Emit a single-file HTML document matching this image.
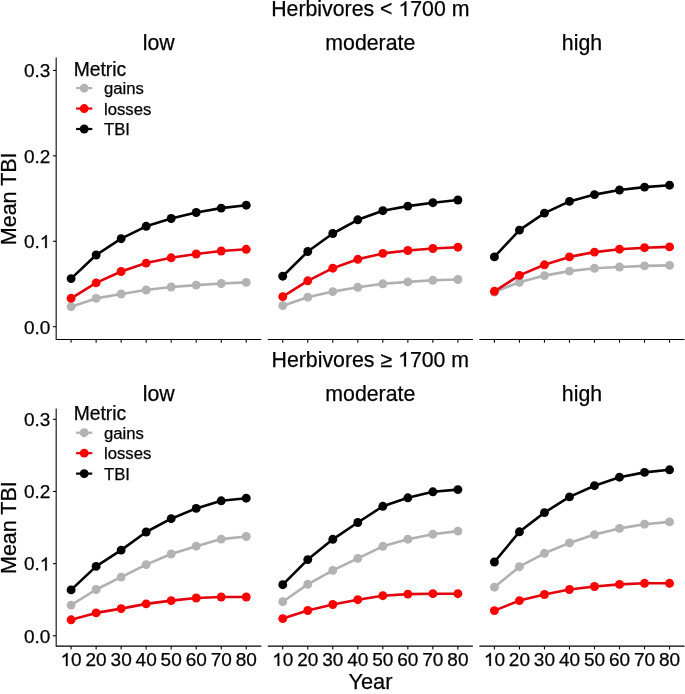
<!DOCTYPE html>
<html><head><meta charset="utf-8"><style>
html,body{margin:0;padding:0;background:#fff;}
svg{display:block;will-change:transform;filter:blur(0.3px);}
text,.one{stroke:#000;stroke-width:0.25px;paint-order:stroke;}
svg{font-family:"Liberation Sans",sans-serif;}
</style></head><body>
<svg width="685" height="694" viewBox="0 0 685 694" font-family="Liberation Sans, sans-serif" stroke-width="0" fill="#000"><text id="t1" x="370.32" y="15.90" font-size="21.3" text-anchor="middle" >Herbivores &lt;  700 m</text>
<text x="158.67" y="49.80" font-size="21.3" text-anchor="middle" >low</text>
<text x="370.32" y="49.80" font-size="21.3" text-anchor="middle" >moderate</text>
<text x="581.97" y="49.80" font-size="21.3" text-anchor="middle" >high</text>
<line x1="56.17" y1="57.60" x2="56.17" y2="340.00" stroke="#000" stroke-width="1.07"/>
<line x1="52.89" y1="326.70" x2="56.09" y2="326.70" stroke="#000" stroke-width="1.07"/>
<text x="50.30" y="333.50" font-size="19" text-anchor="end" >0.0</text>
<line x1="52.89" y1="241.27" x2="56.09" y2="241.27" stroke="#000" stroke-width="1.07"/>
<text id="t2" x="50.30" y="248.07" font-size="19" text-anchor="end" >0. </text>
<line x1="52.89" y1="155.83" x2="56.09" y2="155.83" stroke="#000" stroke-width="1.07"/>
<text x="50.30" y="162.63" font-size="19" text-anchor="end" >0.2</text>
<line x1="52.89" y1="70.40" x2="56.09" y2="70.40" stroke="#000" stroke-width="1.07"/>
<text x="50.30" y="77.20" font-size="19" text-anchor="end" >0.3</text>
<line x1="56.09" y1="339.45" x2="261.25" y2="339.45" stroke="#000" stroke-width="1.07"/>
<line x1="71.10" y1="339.45" x2="71.10" y2="342.75" stroke="#000" stroke-width="1.07"/>
<line x1="96.12" y1="339.45" x2="96.12" y2="342.75" stroke="#000" stroke-width="1.07"/>
<line x1="121.14" y1="339.45" x2="121.14" y2="342.75" stroke="#000" stroke-width="1.07"/>
<line x1="146.16" y1="339.45" x2="146.16" y2="342.75" stroke="#000" stroke-width="1.07"/>
<line x1="171.18" y1="339.45" x2="171.18" y2="342.75" stroke="#000" stroke-width="1.07"/>
<line x1="196.20" y1="339.45" x2="196.20" y2="342.75" stroke="#000" stroke-width="1.07"/>
<line x1="221.22" y1="339.45" x2="221.22" y2="342.75" stroke="#000" stroke-width="1.07"/>
<line x1="246.24" y1="339.45" x2="246.24" y2="342.75" stroke="#000" stroke-width="1.07"/>
<line x1="267.74" y1="339.45" x2="472.90" y2="339.45" stroke="#000" stroke-width="1.07"/>
<line x1="282.75" y1="339.45" x2="282.75" y2="342.75" stroke="#000" stroke-width="1.07"/>
<line x1="307.77" y1="339.45" x2="307.77" y2="342.75" stroke="#000" stroke-width="1.07"/>
<line x1="332.79" y1="339.45" x2="332.79" y2="342.75" stroke="#000" stroke-width="1.07"/>
<line x1="357.81" y1="339.45" x2="357.81" y2="342.75" stroke="#000" stroke-width="1.07"/>
<line x1="382.83" y1="339.45" x2="382.83" y2="342.75" stroke="#000" stroke-width="1.07"/>
<line x1="407.85" y1="339.45" x2="407.85" y2="342.75" stroke="#000" stroke-width="1.07"/>
<line x1="432.87" y1="339.45" x2="432.87" y2="342.75" stroke="#000" stroke-width="1.07"/>
<line x1="457.89" y1="339.45" x2="457.89" y2="342.75" stroke="#000" stroke-width="1.07"/>
<line x1="479.39" y1="339.45" x2="684.55" y2="339.45" stroke="#000" stroke-width="1.07"/>
<line x1="494.40" y1="339.45" x2="494.40" y2="342.75" stroke="#000" stroke-width="1.07"/>
<line x1="519.42" y1="339.45" x2="519.42" y2="342.75" stroke="#000" stroke-width="1.07"/>
<line x1="544.44" y1="339.45" x2="544.44" y2="342.75" stroke="#000" stroke-width="1.07"/>
<line x1="569.46" y1="339.45" x2="569.46" y2="342.75" stroke="#000" stroke-width="1.07"/>
<line x1="594.48" y1="339.45" x2="594.48" y2="342.75" stroke="#000" stroke-width="1.07"/>
<line x1="619.50" y1="339.45" x2="619.50" y2="342.75" stroke="#000" stroke-width="1.07"/>
<line x1="644.52" y1="339.45" x2="644.52" y2="342.75" stroke="#000" stroke-width="1.07"/>
<line x1="669.54" y1="339.45" x2="669.54" y2="342.75" stroke="#000" stroke-width="1.07"/>
<text x="0" y="0" font-size="21.5" text-anchor="middle" transform="translate(15.6,198.83) rotate(-90)">Mean TBI</text>
<polyline points="71.10,306.70 96.12,298.40 121.14,294.00 146.16,290.00 171.18,287.00 196.20,285.10 221.22,283.50 246.24,282.40" fill="none" stroke="#B0B0B0" stroke-width="2.6" stroke-linejoin="round"/>
<circle cx="71.10" cy="306.70" r="4.45" fill="#B3B3B3"/>
<circle cx="96.12" cy="298.40" r="4.45" fill="#B3B3B3"/>
<circle cx="121.14" cy="294.00" r="4.45" fill="#B3B3B3"/>
<circle cx="146.16" cy="290.00" r="4.45" fill="#B3B3B3"/>
<circle cx="171.18" cy="287.00" r="4.45" fill="#B3B3B3"/>
<circle cx="196.20" cy="285.10" r="4.45" fill="#B3B3B3"/>
<circle cx="221.22" cy="283.50" r="4.45" fill="#B3B3B3"/>
<circle cx="246.24" cy="282.40" r="4.45" fill="#B3B3B3"/>
<polyline points="71.10,298.30 96.12,282.90 121.14,271.50 146.16,263.10 171.18,257.80 196.20,254.00 221.22,251.00 246.24,249.30" fill="none" stroke="#E2000C" stroke-width="2.6" stroke-linejoin="round"/>
<circle cx="71.10" cy="298.30" r="4.45" fill="#FF0000"/>
<circle cx="96.12" cy="282.90" r="4.45" fill="#FF0000"/>
<circle cx="121.14" cy="271.50" r="4.45" fill="#FF0000"/>
<circle cx="146.16" cy="263.10" r="4.45" fill="#FF0000"/>
<circle cx="171.18" cy="257.80" r="4.45" fill="#FF0000"/>
<circle cx="196.20" cy="254.00" r="4.45" fill="#FF0000"/>
<circle cx="221.22" cy="251.00" r="4.45" fill="#FF0000"/>
<circle cx="246.24" cy="249.30" r="4.45" fill="#FF0000"/>
<polyline points="71.10,278.60 96.12,255.00 121.14,238.70 146.16,226.30 171.18,218.50 196.20,212.50 221.22,208.10 246.24,205.20" fill="none" stroke="#000000" stroke-width="2.6" stroke-linejoin="round"/>
<circle cx="71.10" cy="278.60" r="4.45" fill="#000000"/>
<circle cx="96.12" cy="255.00" r="4.45" fill="#000000"/>
<circle cx="121.14" cy="238.70" r="4.45" fill="#000000"/>
<circle cx="146.16" cy="226.30" r="4.45" fill="#000000"/>
<circle cx="171.18" cy="218.50" r="4.45" fill="#000000"/>
<circle cx="196.20" cy="212.50" r="4.45" fill="#000000"/>
<circle cx="221.22" cy="208.10" r="4.45" fill="#000000"/>
<circle cx="246.24" cy="205.20" r="4.45" fill="#000000"/>
<polyline points="282.75,305.70 307.77,297.20 332.79,291.60 357.81,287.30 382.83,283.80 407.85,281.90 432.87,280.30 457.89,279.50" fill="none" stroke="#B0B0B0" stroke-width="2.6" stroke-linejoin="round"/>
<circle cx="282.75" cy="305.70" r="4.45" fill="#B3B3B3"/>
<circle cx="307.77" cy="297.20" r="4.45" fill="#B3B3B3"/>
<circle cx="332.79" cy="291.60" r="4.45" fill="#B3B3B3"/>
<circle cx="357.81" cy="287.30" r="4.45" fill="#B3B3B3"/>
<circle cx="382.83" cy="283.80" r="4.45" fill="#B3B3B3"/>
<circle cx="407.85" cy="281.90" r="4.45" fill="#B3B3B3"/>
<circle cx="432.87" cy="280.30" r="4.45" fill="#B3B3B3"/>
<circle cx="457.89" cy="279.50" r="4.45" fill="#B3B3B3"/>
<polyline points="282.75,296.70 307.77,280.80 332.79,268.20 357.81,259.30 382.83,253.40 407.85,250.50 432.87,248.50 457.89,247.20" fill="none" stroke="#E2000C" stroke-width="2.6" stroke-linejoin="round"/>
<circle cx="282.75" cy="296.70" r="4.45" fill="#FF0000"/>
<circle cx="307.77" cy="280.80" r="4.45" fill="#FF0000"/>
<circle cx="332.79" cy="268.20" r="4.45" fill="#FF0000"/>
<circle cx="357.81" cy="259.30" r="4.45" fill="#FF0000"/>
<circle cx="382.83" cy="253.40" r="4.45" fill="#FF0000"/>
<circle cx="407.85" cy="250.50" r="4.45" fill="#FF0000"/>
<circle cx="432.87" cy="248.50" r="4.45" fill="#FF0000"/>
<circle cx="457.89" cy="247.20" r="4.45" fill="#FF0000"/>
<polyline points="282.75,276.20 307.77,251.50 332.79,233.50 357.81,219.80 382.83,210.70 407.85,206.10 432.87,202.70 457.89,200.00" fill="none" stroke="#000000" stroke-width="2.6" stroke-linejoin="round"/>
<circle cx="282.75" cy="276.20" r="4.45" fill="#000000"/>
<circle cx="307.77" cy="251.50" r="4.45" fill="#000000"/>
<circle cx="332.79" cy="233.50" r="4.45" fill="#000000"/>
<circle cx="357.81" cy="219.80" r="4.45" fill="#000000"/>
<circle cx="382.83" cy="210.70" r="4.45" fill="#000000"/>
<circle cx="407.85" cy="206.10" r="4.45" fill="#000000"/>
<circle cx="432.87" cy="202.70" r="4.45" fill="#000000"/>
<circle cx="457.89" cy="200.00" r="4.45" fill="#000000"/>
<polyline points="494.40,292.00 519.42,282.30 544.44,275.60 569.46,271.10 594.48,268.30 619.50,267.00 644.52,265.90 669.54,265.40" fill="none" stroke="#B0B0B0" stroke-width="2.6" stroke-linejoin="round"/>
<circle cx="494.40" cy="292.00" r="4.45" fill="#B3B3B3"/>
<circle cx="519.42" cy="282.30" r="4.45" fill="#B3B3B3"/>
<circle cx="544.44" cy="275.60" r="4.45" fill="#B3B3B3"/>
<circle cx="569.46" cy="271.10" r="4.45" fill="#B3B3B3"/>
<circle cx="594.48" cy="268.30" r="4.45" fill="#B3B3B3"/>
<circle cx="619.50" cy="267.00" r="4.45" fill="#B3B3B3"/>
<circle cx="644.52" cy="265.90" r="4.45" fill="#B3B3B3"/>
<circle cx="669.54" cy="265.40" r="4.45" fill="#B3B3B3"/>
<polyline points="494.40,291.30 519.42,275.40 544.44,264.80 569.46,256.90 594.48,252.10 619.50,249.20 644.52,247.70 669.54,246.90" fill="none" stroke="#E2000C" stroke-width="2.6" stroke-linejoin="round"/>
<circle cx="494.40" cy="291.30" r="4.45" fill="#FF0000"/>
<circle cx="519.42" cy="275.40" r="4.45" fill="#FF0000"/>
<circle cx="544.44" cy="264.80" r="4.45" fill="#FF0000"/>
<circle cx="569.46" cy="256.90" r="4.45" fill="#FF0000"/>
<circle cx="594.48" cy="252.10" r="4.45" fill="#FF0000"/>
<circle cx="619.50" cy="249.20" r="4.45" fill="#FF0000"/>
<circle cx="644.52" cy="247.70" r="4.45" fill="#FF0000"/>
<circle cx="669.54" cy="246.90" r="4.45" fill="#FF0000"/>
<polyline points="494.40,256.90 519.42,230.10 544.44,213.10 569.46,201.40 594.48,194.60 619.50,190.00 644.52,187.10 669.54,185.20" fill="none" stroke="#000000" stroke-width="2.6" stroke-linejoin="round"/>
<circle cx="494.40" cy="256.90" r="4.45" fill="#000000"/>
<circle cx="519.42" cy="230.10" r="4.45" fill="#000000"/>
<circle cx="544.44" cy="213.10" r="4.45" fill="#000000"/>
<circle cx="569.46" cy="201.40" r="4.45" fill="#000000"/>
<circle cx="594.48" cy="194.60" r="4.45" fill="#000000"/>
<circle cx="619.50" cy="190.00" r="4.45" fill="#000000"/>
<circle cx="644.52" cy="187.10" r="4.45" fill="#000000"/>
<circle cx="669.54" cy="185.20" r="4.45" fill="#000000"/>
<text x="73.70" y="75.60" font-size="19.3" text-anchor="start" >Metric</text>
<line x1="76.1" y1="88.10" x2="92.3" y2="88.10" stroke="#B0B0B0" stroke-width="2.2"/>
<circle cx="84.2" cy="88.10" r="4.45" fill="#B3B3B3"/>
<text x="104.00" y="94.30" font-size="16.7" text-anchor="start" >gains</text>
<line x1="76.1" y1="108.55" x2="92.3" y2="108.55" stroke="#E2000C" stroke-width="2.2"/>
<circle cx="84.2" cy="108.55" r="4.45" fill="#FF0000"/>
<text x="104.00" y="114.75" font-size="16.7" text-anchor="start" >losses</text>
<line x1="76.1" y1="129.00" x2="92.3" y2="129.00" stroke="#000000" stroke-width="2.2"/>
<circle cx="84.2" cy="129.00" r="4.45" fill="#000000"/>
<text x="104.00" y="135.20" font-size="16.7" text-anchor="start" >TBI</text>
<text id="t3" x="370.32" y="366.60" font-size="21.3" text-anchor="middle" >Herbivores ≥  700 m</text>
<text x="158.67" y="400.50" font-size="21.3" text-anchor="middle" >low</text>
<text x="370.32" y="400.50" font-size="21.3" text-anchor="middle" >moderate</text>
<text x="581.97" y="400.50" font-size="21.3" text-anchor="middle" >high</text>
<line x1="56.17" y1="408.50" x2="56.17" y2="646.65" stroke="#000" stroke-width="1.07"/>
<line x1="52.89" y1="635.80" x2="56.09" y2="635.80" stroke="#000" stroke-width="1.07"/>
<text x="50.30" y="642.60" font-size="19" text-anchor="end" >0.0</text>
<line x1="52.89" y1="563.63" x2="56.09" y2="563.63" stroke="#000" stroke-width="1.07"/>
<text id="t4" x="50.30" y="570.43" font-size="19" text-anchor="end" >0. </text>
<line x1="52.89" y1="491.47" x2="56.09" y2="491.47" stroke="#000" stroke-width="1.07"/>
<text x="50.30" y="498.27" font-size="19" text-anchor="end" >0.2</text>
<line x1="52.89" y1="419.30" x2="56.09" y2="419.30" stroke="#000" stroke-width="1.07"/>
<text x="50.30" y="426.10" font-size="19" text-anchor="end" >0.3</text>
<line x1="56.09" y1="646.10" x2="261.25" y2="646.10" stroke="#000" stroke-width="1.07"/>
<line x1="71.10" y1="646.10" x2="71.10" y2="649.40" stroke="#000" stroke-width="1.07"/>
<text id="t5" x="71.10" y="666.00" font-size="19" text-anchor="middle" > 0</text>
<line x1="96.12" y1="646.10" x2="96.12" y2="649.40" stroke="#000" stroke-width="1.07"/>
<text x="96.12" y="666.00" font-size="19" text-anchor="middle" >20</text>
<line x1="121.14" y1="646.10" x2="121.14" y2="649.40" stroke="#000" stroke-width="1.07"/>
<text x="121.14" y="666.00" font-size="19" text-anchor="middle" >30</text>
<line x1="146.16" y1="646.10" x2="146.16" y2="649.40" stroke="#000" stroke-width="1.07"/>
<text x="146.16" y="666.00" font-size="19" text-anchor="middle" >40</text>
<line x1="171.18" y1="646.10" x2="171.18" y2="649.40" stroke="#000" stroke-width="1.07"/>
<text x="171.18" y="666.00" font-size="19" text-anchor="middle" >50</text>
<line x1="196.20" y1="646.10" x2="196.20" y2="649.40" stroke="#000" stroke-width="1.07"/>
<text x="196.20" y="666.00" font-size="19" text-anchor="middle" >60</text>
<line x1="221.22" y1="646.10" x2="221.22" y2="649.40" stroke="#000" stroke-width="1.07"/>
<text x="221.22" y="666.00" font-size="19" text-anchor="middle" >70</text>
<line x1="246.24" y1="646.10" x2="246.24" y2="649.40" stroke="#000" stroke-width="1.07"/>
<text x="246.24" y="666.00" font-size="19" text-anchor="middle" >80</text>
<line x1="267.74" y1="646.10" x2="472.90" y2="646.10" stroke="#000" stroke-width="1.07"/>
<line x1="282.75" y1="646.10" x2="282.75" y2="649.40" stroke="#000" stroke-width="1.07"/>
<text id="t6" x="282.75" y="666.00" font-size="19" text-anchor="middle" > 0</text>
<line x1="307.77" y1="646.10" x2="307.77" y2="649.40" stroke="#000" stroke-width="1.07"/>
<text x="307.77" y="666.00" font-size="19" text-anchor="middle" >20</text>
<line x1="332.79" y1="646.10" x2="332.79" y2="649.40" stroke="#000" stroke-width="1.07"/>
<text x="332.79" y="666.00" font-size="19" text-anchor="middle" >30</text>
<line x1="357.81" y1="646.10" x2="357.81" y2="649.40" stroke="#000" stroke-width="1.07"/>
<text x="357.81" y="666.00" font-size="19" text-anchor="middle" >40</text>
<line x1="382.83" y1="646.10" x2="382.83" y2="649.40" stroke="#000" stroke-width="1.07"/>
<text x="382.83" y="666.00" font-size="19" text-anchor="middle" >50</text>
<line x1="407.85" y1="646.10" x2="407.85" y2="649.40" stroke="#000" stroke-width="1.07"/>
<text x="407.85" y="666.00" font-size="19" text-anchor="middle" >60</text>
<line x1="432.87" y1="646.10" x2="432.87" y2="649.40" stroke="#000" stroke-width="1.07"/>
<text x="432.87" y="666.00" font-size="19" text-anchor="middle" >70</text>
<line x1="457.89" y1="646.10" x2="457.89" y2="649.40" stroke="#000" stroke-width="1.07"/>
<text x="457.89" y="666.00" font-size="19" text-anchor="middle" >80</text>
<line x1="479.39" y1="646.10" x2="684.55" y2="646.10" stroke="#000" stroke-width="1.07"/>
<line x1="494.40" y1="646.10" x2="494.40" y2="649.40" stroke="#000" stroke-width="1.07"/>
<text id="t7" x="494.40" y="666.00" font-size="19" text-anchor="middle" > 0</text>
<line x1="519.42" y1="646.10" x2="519.42" y2="649.40" stroke="#000" stroke-width="1.07"/>
<text x="519.42" y="666.00" font-size="19" text-anchor="middle" >20</text>
<line x1="544.44" y1="646.10" x2="544.44" y2="649.40" stroke="#000" stroke-width="1.07"/>
<text x="544.44" y="666.00" font-size="19" text-anchor="middle" >30</text>
<line x1="569.46" y1="646.10" x2="569.46" y2="649.40" stroke="#000" stroke-width="1.07"/>
<text x="569.46" y="666.00" font-size="19" text-anchor="middle" >40</text>
<line x1="594.48" y1="646.10" x2="594.48" y2="649.40" stroke="#000" stroke-width="1.07"/>
<text x="594.48" y="666.00" font-size="19" text-anchor="middle" >50</text>
<line x1="619.50" y1="646.10" x2="619.50" y2="649.40" stroke="#000" stroke-width="1.07"/>
<text x="619.50" y="666.00" font-size="19" text-anchor="middle" >60</text>
<line x1="644.52" y1="646.10" x2="644.52" y2="649.40" stroke="#000" stroke-width="1.07"/>
<text x="644.52" y="666.00" font-size="19" text-anchor="middle" >70</text>
<line x1="669.54" y1="646.10" x2="669.54" y2="649.40" stroke="#000" stroke-width="1.07"/>
<text x="669.54" y="666.00" font-size="19" text-anchor="middle" >80</text>
<text x="0" y="0" font-size="21.5" text-anchor="middle" transform="translate(15.6,527.60) rotate(-90)">Mean TBI</text>
<polyline points="71.10,605.10 96.12,589.50 121.14,577.10 146.16,564.60 171.18,554.00 196.20,546.20 221.22,539.10 246.24,536.50" fill="none" stroke="#B0B0B0" stroke-width="2.6" stroke-linejoin="round"/>
<circle cx="71.10" cy="605.10" r="4.45" fill="#B3B3B3"/>
<circle cx="96.12" cy="589.50" r="4.45" fill="#B3B3B3"/>
<circle cx="121.14" cy="577.10" r="4.45" fill="#B3B3B3"/>
<circle cx="146.16" cy="564.60" r="4.45" fill="#B3B3B3"/>
<circle cx="171.18" cy="554.00" r="4.45" fill="#B3B3B3"/>
<circle cx="196.20" cy="546.20" r="4.45" fill="#B3B3B3"/>
<circle cx="221.22" cy="539.10" r="4.45" fill="#B3B3B3"/>
<circle cx="246.24" cy="536.50" r="4.45" fill="#B3B3B3"/>
<polyline points="71.10,619.80 96.12,612.90 121.14,608.60 146.16,603.90 171.18,600.60 196.20,598.00 221.22,597.00 246.24,597.00" fill="none" stroke="#E2000C" stroke-width="2.6" stroke-linejoin="round"/>
<circle cx="71.10" cy="619.80" r="4.45" fill="#FF0000"/>
<circle cx="96.12" cy="612.90" r="4.45" fill="#FF0000"/>
<circle cx="121.14" cy="608.60" r="4.45" fill="#FF0000"/>
<circle cx="146.16" cy="603.90" r="4.45" fill="#FF0000"/>
<circle cx="171.18" cy="600.60" r="4.45" fill="#FF0000"/>
<circle cx="196.20" cy="598.00" r="4.45" fill="#FF0000"/>
<circle cx="221.22" cy="597.00" r="4.45" fill="#FF0000"/>
<circle cx="246.24" cy="597.00" r="4.45" fill="#FF0000"/>
<polyline points="71.10,589.90 96.12,566.40 121.14,550.10 146.16,532.00 171.18,518.70 196.20,508.40 221.22,500.80 246.24,498.20" fill="none" stroke="#000000" stroke-width="2.6" stroke-linejoin="round"/>
<circle cx="71.10" cy="589.90" r="4.45" fill="#000000"/>
<circle cx="96.12" cy="566.40" r="4.45" fill="#000000"/>
<circle cx="121.14" cy="550.10" r="4.45" fill="#000000"/>
<circle cx="146.16" cy="532.00" r="4.45" fill="#000000"/>
<circle cx="171.18" cy="518.70" r="4.45" fill="#000000"/>
<circle cx="196.20" cy="508.40" r="4.45" fill="#000000"/>
<circle cx="221.22" cy="500.80" r="4.45" fill="#000000"/>
<circle cx="246.24" cy="498.20" r="4.45" fill="#000000"/>
<polyline points="282.75,601.70 307.77,584.30 332.79,570.40 357.81,558.40 382.83,546.30 407.85,539.20 432.87,534.20 457.89,531.10" fill="none" stroke="#B0B0B0" stroke-width="2.6" stroke-linejoin="round"/>
<circle cx="282.75" cy="601.70" r="4.45" fill="#B3B3B3"/>
<circle cx="307.77" cy="584.30" r="4.45" fill="#B3B3B3"/>
<circle cx="332.79" cy="570.40" r="4.45" fill="#B3B3B3"/>
<circle cx="357.81" cy="558.40" r="4.45" fill="#B3B3B3"/>
<circle cx="382.83" cy="546.30" r="4.45" fill="#B3B3B3"/>
<circle cx="407.85" cy="539.20" r="4.45" fill="#B3B3B3"/>
<circle cx="432.87" cy="534.20" r="4.45" fill="#B3B3B3"/>
<circle cx="457.89" cy="531.10" r="4.45" fill="#B3B3B3"/>
<polyline points="282.75,618.60 307.77,610.50 332.79,604.50 357.81,599.70 382.83,595.70 407.85,594.10 432.87,593.70 457.89,593.70" fill="none" stroke="#E2000C" stroke-width="2.6" stroke-linejoin="round"/>
<circle cx="282.75" cy="618.60" r="4.45" fill="#FF0000"/>
<circle cx="307.77" cy="610.50" r="4.45" fill="#FF0000"/>
<circle cx="332.79" cy="604.50" r="4.45" fill="#FF0000"/>
<circle cx="357.81" cy="599.70" r="4.45" fill="#FF0000"/>
<circle cx="382.83" cy="595.70" r="4.45" fill="#FF0000"/>
<circle cx="407.85" cy="594.10" r="4.45" fill="#FF0000"/>
<circle cx="432.87" cy="593.70" r="4.45" fill="#FF0000"/>
<circle cx="457.89" cy="593.70" r="4.45" fill="#FF0000"/>
<polyline points="282.75,584.70 307.77,559.60 332.79,539.30 357.81,522.50 382.83,506.30 407.85,497.80 432.87,491.80 457.89,489.60" fill="none" stroke="#000000" stroke-width="2.6" stroke-linejoin="round"/>
<circle cx="282.75" cy="584.70" r="4.45" fill="#000000"/>
<circle cx="307.77" cy="559.60" r="4.45" fill="#000000"/>
<circle cx="332.79" cy="539.30" r="4.45" fill="#000000"/>
<circle cx="357.81" cy="522.50" r="4.45" fill="#000000"/>
<circle cx="382.83" cy="506.30" r="4.45" fill="#000000"/>
<circle cx="407.85" cy="497.80" r="4.45" fill="#000000"/>
<circle cx="432.87" cy="491.80" r="4.45" fill="#000000"/>
<circle cx="457.89" cy="489.60" r="4.45" fill="#000000"/>
<polyline points="494.40,587.20 519.42,566.70 544.44,553.30 569.46,542.90 594.48,534.60 619.50,528.40 644.52,524.20 669.54,521.90" fill="none" stroke="#B0B0B0" stroke-width="2.6" stroke-linejoin="round"/>
<circle cx="494.40" cy="587.20" r="4.45" fill="#B3B3B3"/>
<circle cx="519.42" cy="566.70" r="4.45" fill="#B3B3B3"/>
<circle cx="544.44" cy="553.30" r="4.45" fill="#B3B3B3"/>
<circle cx="569.46" cy="542.90" r="4.45" fill="#B3B3B3"/>
<circle cx="594.48" cy="534.60" r="4.45" fill="#B3B3B3"/>
<circle cx="619.50" cy="528.40" r="4.45" fill="#B3B3B3"/>
<circle cx="644.52" cy="524.20" r="4.45" fill="#B3B3B3"/>
<circle cx="669.54" cy="521.90" r="4.45" fill="#B3B3B3"/>
<polyline points="494.40,610.60 519.42,600.60 544.44,594.50 569.46,589.50 594.48,586.50 619.50,584.40 644.52,583.30 669.54,583.30" fill="none" stroke="#E2000C" stroke-width="2.6" stroke-linejoin="round"/>
<circle cx="494.40" cy="610.60" r="4.45" fill="#FF0000"/>
<circle cx="519.42" cy="600.60" r="4.45" fill="#FF0000"/>
<circle cx="544.44" cy="594.50" r="4.45" fill="#FF0000"/>
<circle cx="569.46" cy="589.50" r="4.45" fill="#FF0000"/>
<circle cx="594.48" cy="586.50" r="4.45" fill="#FF0000"/>
<circle cx="619.50" cy="584.40" r="4.45" fill="#FF0000"/>
<circle cx="644.52" cy="583.30" r="4.45" fill="#FF0000"/>
<circle cx="669.54" cy="583.30" r="4.45" fill="#FF0000"/>
<polyline points="494.40,562.00 519.42,531.80 544.44,512.60 569.46,496.90 594.48,485.70 619.50,477.20 644.52,472.40 669.54,469.80" fill="none" stroke="#000000" stroke-width="2.6" stroke-linejoin="round"/>
<circle cx="494.40" cy="562.00" r="4.45" fill="#000000"/>
<circle cx="519.42" cy="531.80" r="4.45" fill="#000000"/>
<circle cx="544.44" cy="512.60" r="4.45" fill="#000000"/>
<circle cx="569.46" cy="496.90" r="4.45" fill="#000000"/>
<circle cx="594.48" cy="485.70" r="4.45" fill="#000000"/>
<circle cx="619.50" cy="477.20" r="4.45" fill="#000000"/>
<circle cx="644.52" cy="472.40" r="4.45" fill="#000000"/>
<circle cx="669.54" cy="469.80" r="4.45" fill="#000000"/>
<text x="73.70" y="420.20" font-size="19.3" text-anchor="start" >Metric</text>
<line x1="76.1" y1="432.70" x2="92.3" y2="432.70" stroke="#B0B0B0" stroke-width="2.2"/>
<circle cx="84.2" cy="432.70" r="4.45" fill="#B3B3B3"/>
<text x="104.00" y="438.90" font-size="16.7" text-anchor="start" >gains</text>
<line x1="76.1" y1="453.15" x2="92.3" y2="453.15" stroke="#E2000C" stroke-width="2.2"/>
<circle cx="84.2" cy="453.15" r="4.45" fill="#FF0000"/>
<text x="104.00" y="459.35" font-size="16.7" text-anchor="start" >losses</text>
<line x1="76.1" y1="473.60" x2="92.3" y2="473.60" stroke="#000000" stroke-width="2.2"/>
<circle cx="84.2" cy="473.60" r="4.45" fill="#000000"/>
<text x="104.00" y="479.80" font-size="16.7" text-anchor="start" >TBI</text>
<text x="370.40" y="688.50" font-size="21.8" text-anchor="middle" >Year</text>
<path class="one" d="M406.35,15.90L404.48,15.90L404.48,4.43Q403.80,5.05 402.71,5.67Q401.62,6.29 400.73,6.60L400.73,4.86Q402.31,4.15 403.50,3.14Q404.69,2.12 405.17,1.25L406.35,1.25Z"/>
<path class="one" d="M46.80,248.07L45.13,248.07L45.13,237.84Q44.53,238.39 43.55,238.94Q42.58,239.50 41.79,239.77L41.79,238.22Q43.20,237.59 44.26,236.68Q45.32,235.77 45.75,234.99L46.80,234.99Z"/>
<path class="one" d="M405.97,366.60L404.10,366.60L404.10,355.13Q403.43,355.75 402.33,356.37Q401.24,356.99 400.36,357.30L400.36,355.56Q401.94,354.85 403.12,353.84Q404.31,352.82 404.80,351.95L405.97,351.95Z"/>
<path class="one" d="M46.80,570.43L45.13,570.43L45.13,560.21Q44.53,560.76 43.55,561.31Q42.58,561.86 41.79,562.14L41.79,560.59Q43.20,559.96 44.26,559.05Q45.32,558.14 45.75,557.36L46.80,557.36Z"/>
<path class="one" d="M67.61,666.00L65.94,666.00L65.94,655.77Q65.34,656.33 64.36,656.88Q63.39,657.43 62.60,657.71L62.60,656.16Q64.01,655.52 65.07,654.61Q66.12,653.70 66.56,652.93L67.61,652.93Z"/>
<path class="one" d="M279.26,666.00L277.59,666.00L277.59,655.77Q276.99,656.33 276.01,656.88Q275.04,657.43 274.25,657.71L274.25,656.16Q275.66,655.52 276.72,654.61Q277.77,653.70 278.21,652.93L279.26,652.93Z"/>
<path class="one" d="M490.91,666.00L489.24,666.00L489.24,655.77Q488.64,656.33 487.66,656.88Q486.69,657.43 485.90,657.71L485.90,656.16Q487.31,655.52 488.37,654.61Q489.42,653.70 489.86,652.93L490.91,652.93Z"/></svg>
</body></html>
